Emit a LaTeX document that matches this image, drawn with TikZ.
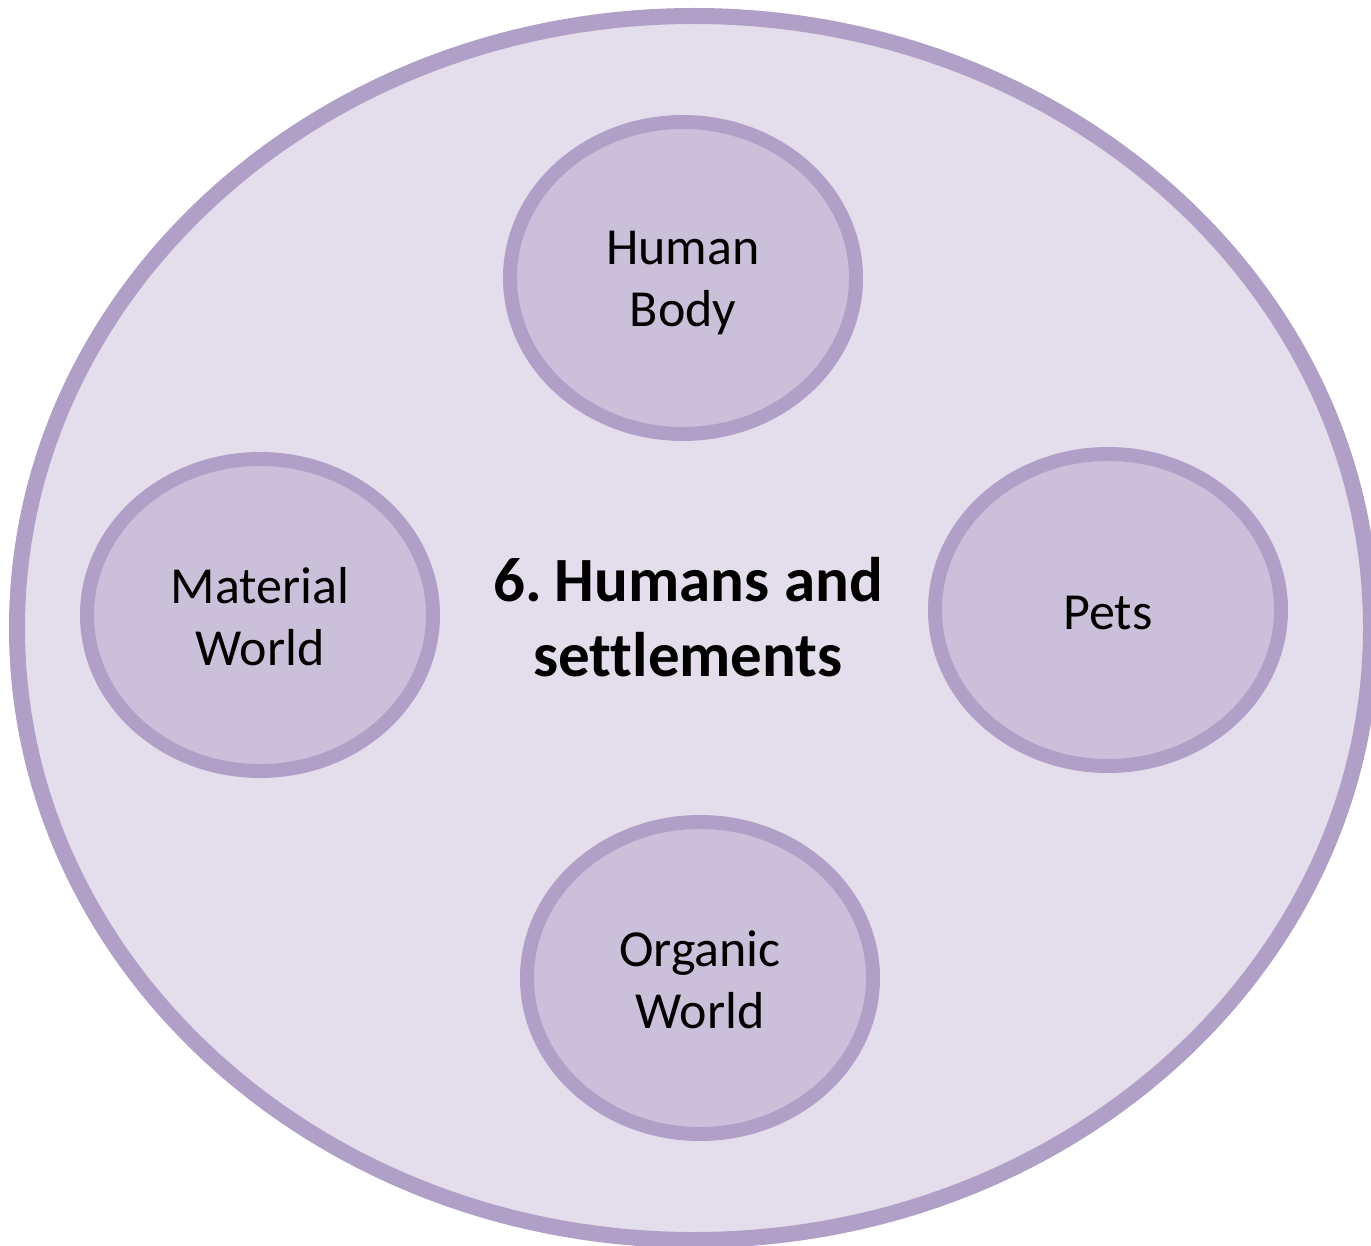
\documentclass[tikz,border=0pt]{standalone}
\usepackage{fontspec}
\setmainfont[Ligatures=NoCommon]{Carlito}
\definecolor{ringc}{RGB}{176,160,200}
\definecolor{outerfill}{RGB}{228,222,236}
\definecolor{innerfill}{RGB}{203,192,218}
\begin{document}
\begin{tikzpicture}[x=1pt,y=1pt,
  outerring/.style={draw=ringc,fill=outerfill,line width=16pt},
  innerring/.style={draw=ringc,fill=innerfill,line width=14pt},
  smallfont/.style={font=\fontsize{52}{62}\selectfont,align=center,text=black},
  titlefont/.style={font=\fontsize{63}{75}\selectfont\bfseries,align=center,text=black}]
\useasboundingbox (0,0) rectangle (1371,-1246);
\draw[outerring] (694,-628) ellipse [x radius=677, y radius=612];
\draw[innerring] (683,-278) ellipse [x radius=173, y radius=156];
\draw[innerring] (260,-615) ellipse [x radius=173, y radius=156];
\draw[innerring] (1108,-610) ellipse [x radius=173, y radius=156];
\draw[innerring] (700,-978) ellipse [x radius=173, y radius=156];
\node[smallfont] (body) at (683,-283) {Human\\Body};
\node[smallfont] (material) at (260,-617) {Material\\World};
\node[smallfont] (pets) at (1108,-613) {Pets};
\node[smallfont] (organic) at (700,-980) {Organic\\World};
\node[titlefont] (title) at (688,-617) {6.\kern-6pt{} Humans and\\settlements};
\end{tikzpicture}
\end{document}
